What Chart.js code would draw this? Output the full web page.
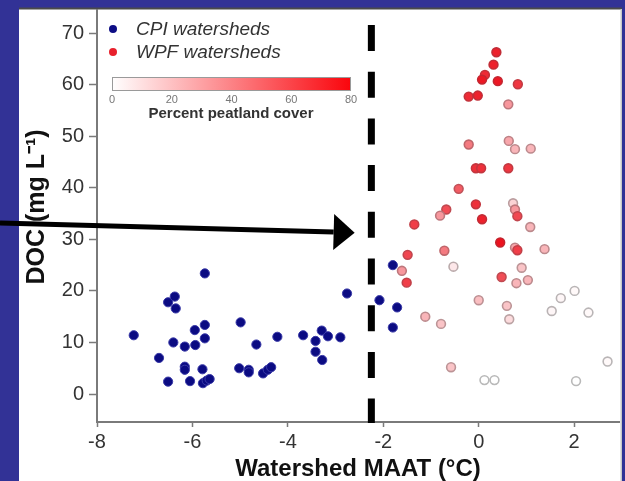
<!DOCTYPE html>
<html>
<head>
<meta charset="utf-8">
<style>
  html, body { margin: 0; padding: 0; background: #323296; }
  #wrap { width: 625px; height: 481px; }
</style>
<script src="https://cdn.jsdelivr.net/npm/chart.js@4"></script>
</head>
<body>
<div id="wrap"><canvas id="docChart" width="625" height="481"></canvas></div>
<script>
// ===== DOC vs watershed MAAT =====

const cpiMaat = [-7.23, -6.70, -6.51, -6.37, -6.35, -6.51, -6.40, -6.16, -6.16, -6.16, -6.05,
  -5.95, -5.94, -5.79, -5.74, -5.74, -5.74, -5.78, -5.70, -5.64, -4.99, -5.02, -4.82, -4.82,
  -4.66, -4.52, -4.42, -4.35, -4.22, -3.68, -3.42, -3.42, -3.29, -3.16, -3.28, -2.90, -2.76,
  -2.08, -1.80, -1.71, -1.80];
const cpiDoc = [11.4, 7.0, 17.8, 18.9, 16.6, 2.4, 10.0, 9.2, 5.3, 4.7, 2.5,
  12.4, 9.5, 4.8, 23.4, 13.4, 10.8, 2.1, 2.6, 2.9, 13.9, 5.0, 4.7, 4.2,
  9.6, 4.0, 4.7, 5.2, 11.1, 11.4, 10.3, 8.2, 12.3, 11.2, 6.6, 11.0, 19.5,
  18.2, 25.0, 16.8, 12.9];

const wpfMaat = [0.37, 0.31, 0.13, 0.07, 0.40, 0.82, -0.21, -0.02, 0.62, -0.21, 0.63, 0.76, 1.09,
  -0.06, 0.05, 0.62, -0.42, -0.06, -0.68, -0.81, 0.07, -1.35, 0.72, 0.76, 0.81, 1.08,
  0.45, 0.76, 0.81, 1.38, -0.72, -1.49, -1.61, -1.51, -0.53, 0.90, 0.48, 0.79, 1.03,
  0.00, 0.59, 0.64, -1.12, -0.79, -0.58, 2.01, 1.72, 1.53, 2.30, 2.70, 0.12, 0.33, 2.04];
const wpfDoc = [66.3, 63.9, 61.9, 61.0, 60.7, 60.1, 57.7, 57.9, 56.2, 48.4, 49.1, 47.5, 47.6,
  43.8, 43.8, 43.8, 39.8, 36.8, 35.8, 34.6, 33.9, 32.9, 37.0, 35.8, 34.5, 32.4,
  29.4, 28.4, 27.9, 28.1, 27.8, 27.0, 23.9, 21.6, 24.7, 24.5, 22.7, 21.5, 22.1,
  18.2, 17.1, 14.5, 15.0, 13.6, 5.2, 20.0, 18.6, 16.1, 15.8, 6.3, 2.7, 2.7, 2.5];
const wpfPeat = [75, 75, 72, 78, 78, 68, 72, 75, 35, 45, 30, 25, 25,
  70, 70, 68, 55, 70, 60, 35, 75, 65, 15, 35, 62, 25,
  80, 30, 65, 25, 45, 62, 35, 65, 8, 20, 60, 25, 25,
  22, 20, 12, 25, 20, 20, 2, 3, 3, 2, 2, 0, 0, 0];

const xTicks = [-8, -6, -4, -2, 0, 2];
const yTicks = [0, 10, 20, 30, 40, 50, 60, 70];
const peatTicks = [0, 20, 40, 60, 80];
const seriesNames = ['CPI watersheds', 'WPF watersheds'];

const splitMaat = -2.25;            // dashed divider
const arrowTip = { x: -2.6, y: 31.3 };

const FONT = "'Liberation Sans', Arial, sans-serif";
const NAVY = '#323296';

function mix(a, b, t) {
  return a.map((v, i) => Math.round(v + (b[i] - v) * t));
}
function peatFill(p) {
  const c = mix([255, 255, 255], [236, 18, 30], Math.min(p / 80, 1));
  return `rgb(${c.join(',')})`;
}
function peatEdge(p) {
  const c = mix([185, 185, 185], [195, 35, 45], Math.min(p / 80, 1));
  return `rgb(${c.join(',')})`;
}

const panelPlugin = {
  id: 'panel',
  beforeDraw(chart) {
    const { ctx, width, height } = chart;
    ctx.save();
    ctx.fillStyle = NAVY;
    ctx.fillRect(0, 0, width, height);
    ctx.fillStyle = '#ffffff';
    ctx.fillRect(19, 9, 603, height - 9);
    ctx.fillStyle = '#4a4a4a';
    ctx.fillRect(19, 7.5, 603, 2);
    ctx.fillStyle = '#c8c8c8';
    ctx.fillRect(620.5, 9, 1.5, height - 9);
    ctx.restore();
  },
  afterDraw(chart) {
    const { ctx, chartArea } = chart;
    const xs = chart.scales.x, ys = chart.scales.y;
    ctx.save();

    // y title
    ctx.translate(37, 207);
    ctx.rotate(-Math.PI / 2);
    ctx.fillStyle = '#111';
    ctx.font = `bold 25px ${FONT}`;
    ctx.textAlign = 'center';
    ctx.textBaseline = 'middle';
    ctx.fillText('DOC (mg L\u207B\u00B9)', 0, 0);
    ctx.setTransform(1, 0, 0, 1, 0, 0);

    // dashed divider
    const dx = xs.getPixelForValue(splitMaat);
    ctx.strokeStyle = '#000';
    ctx.lineWidth = 7;
    ctx.setLineDash([26, 20.7]);
    ctx.beginPath();
    ctx.moveTo(dx, 25);
    ctx.lineTo(dx, chartArea.bottom + 1);
    ctx.stroke();
    ctx.setLineDash([]);

    // arrow
    const tx = xs.getPixelForValue(arrowTip.x), ty = ys.getPixelForValue(arrowTip.y);
    const sx = 0, sy = 223;
    const ang = Math.atan2(ty - sy, tx - sx);
    const headL = 21, headW = 18;
    const bx = tx - headL * Math.cos(ang), by = ty - headL * Math.sin(ang);
    ctx.lineWidth = 5;
    ctx.beginPath();
    ctx.moveTo(sx, sy);
    ctx.lineTo(bx, by);
    ctx.stroke();
    ctx.fillStyle = '#000';
    ctx.beginPath();
    ctx.moveTo(tx, ty);
    ctx.lineTo(bx - headW * Math.sin(ang), by + headW * Math.cos(ang));
    ctx.lineTo(bx + headW * Math.sin(ang), by - headW * Math.cos(ang));
    ctx.closePath();
    ctx.fill();

    // legend
    const dots = ['#0d0d85', '#e8202c'];
    ctx.font = `italic 19px ${FONT}`;
    ctx.textAlign = 'left';
    ctx.textBaseline = 'middle';
    seriesNames.forEach((name, i) => {
      const y = 29 + i * 23;
      ctx.fillStyle = dots[i];
      ctx.beginPath();
      ctx.arc(113, y, 4, 0, Math.PI * 2);
      ctx.fill();
      ctx.fillStyle = '#333';
      ctx.fillText(name, 136, y + 1);
    });

    // colour bar
    const barL = 112, barR = 351, barT = 77, barB = 91;
    const grad = ctx.createLinearGradient(barL, 0, barR, 0);
    grad.addColorStop(0, peatFill(0));
    grad.addColorStop(1, 'rgb(250,5,12)');
    ctx.fillStyle = grad;
    ctx.fillRect(barL, barT, barR - barL, barB - barT);
    ctx.strokeStyle = '#9a9a9a';
    ctx.lineWidth = 1;
    ctx.strokeRect(barL + 0.5, barT + 0.5, barR - barL - 1, barB - barT - 1);
    ctx.fillStyle = '#777';
    ctx.font = `11px ${FONT}`;
    ctx.textAlign = 'center';
    peatTicks.forEach(v => {
      const px = barL + (barR - barL) * v / 80;
      ctx.fillText(String(v), px, 100);
    });
    ctx.fillStyle = '#333';
    ctx.font = `bold 15px ${FONT}`;
    ctx.fillText('Percent peatland cover', 231, 114);
    ctx.restore();
  }
};

new Chart(document.getElementById('docChart'), {
  type: 'scatter',
  data: {
    datasets: [
      {
        label: seriesNames[0],
        data: cpiMaat.map((x, i) => ({ x, y: cpiDoc[i] })),
        backgroundColor: '#0b0b82',
        borderColor: '#3a3aa8',
        borderWidth: 1,
        pointRadius: 4.6
      },
      {
        label: seriesNames[1],
        data: wpfMaat.map((x, i) => ({ x, y: wpfDoc[i] })),
        backgroundColor: ctx => peatFill(wpfPeat[ctx.dataIndex]),
        borderColor: ctx => peatEdge(wpfPeat[ctx.dataIndex]),
        borderWidth: 1.6,
        pointRadius: 4.4
      }
    ]
  },
  options: {
    responsive: false,
    animation: false,
    layout: { padding: { left: 19, right: 5, top: 10, bottom: 0 } },
    plugins: {
      legend: { display: false },
      tooltip: { enabled: false }
    },
    scales: {
      x: {
        type: 'linear',
        min: -8, max: 2.94,
        afterBuildTicks: s => { s.ticks = xTicks.map(v => ({ value: v })); },
        afterFit: s => { s.height = 59; s.paddingLeft = 0; s.paddingRight = 0; },
        border: { color: '#7a7a7a', width: 2 },
        grid: { drawOnChartArea: false, tickLength: 5, tickColor: '#7a7a7a', tickWidth: 1.5 },
        ticks: { color: '#333', font: { family: FONT, size: 20 }, padding: 3 },
        title: {
          display: true, text: 'Watershed MAAT (\u00B0C)', color: '#111',
          font: { family: FONT, size: 24, weight: 'bold' }, padding: { top: 0, bottom: -3 }
        }
      },
      y: {
        type: 'linear',
        min: -5.43, max: 74.5,
        afterBuildTicks: s => { s.ticks = yTicks.map(v => ({ value: v })); },
        afterFit: s => { s.width = 78; s.paddingTop = 0; s.paddingBottom = 0; },
        border: { color: '#7a7a7a', width: 2 },
        grid: { drawOnChartArea: false, tickLength: 8, tickColor: '#7a7a7a', tickWidth: 1.5 },
        ticks: { color: '#333', font: { family: FONT, size: 20 }, padding: 5 }
      }
    }
  },
  plugins: [panelPlugin]
});
</script>
</body>
</html>
